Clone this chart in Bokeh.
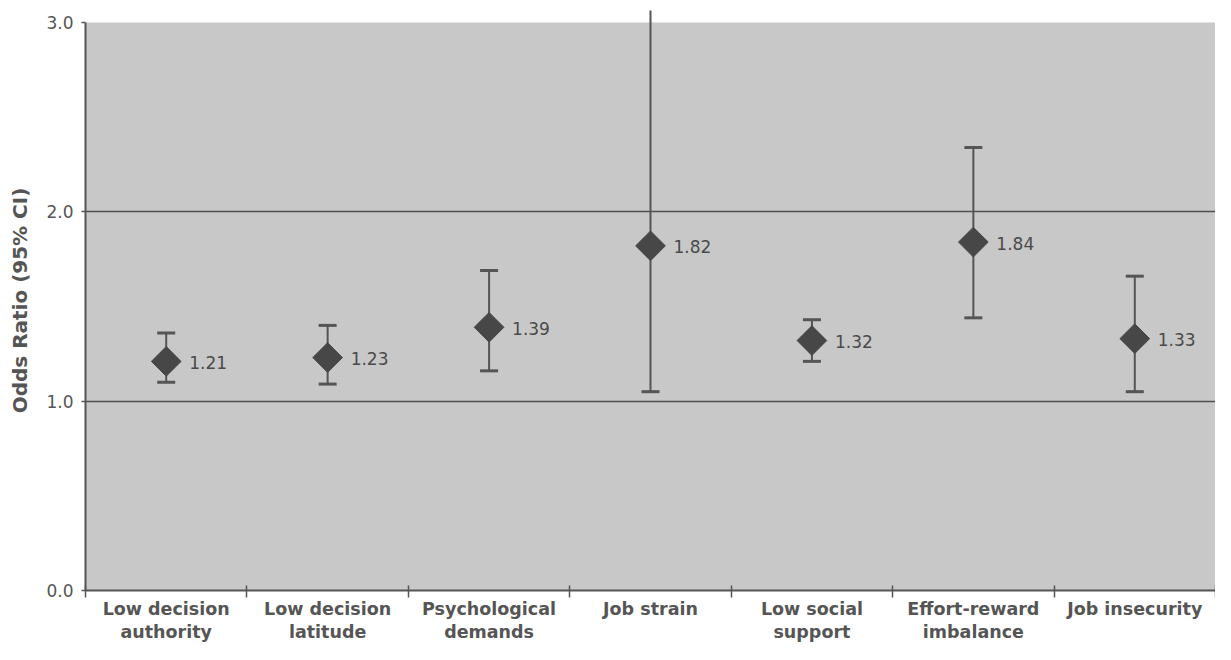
import math
from bokeh.plotting import figure
from bokeh.models import Range1d, FixedTicker, BoxAnnotation
from bokeh.core.properties import value
from bokeh.embed import file_html
from bokeh.resources import INLINE

# ---- data ----
categories = ["Low decision\nauthority", "Low decision\nlatitude", "Psychological\ndemands",
              "Job strain", "Low social\nsupport", "Effort-reward\nimbalance", "Job insecurity"]
odds_ratio = [1.21, 1.23, 1.39, 1.82, 1.32, 1.84, 1.33]
ci_lower = [1.10, 1.09, 1.16, 1.05, 1.21, 1.44, 1.05]
ci_upper = [1.36, 1.40, 1.69, 3.30, 1.43, 2.34, 1.66]
y_ticks = [0, 1, 2, 3]
y_tick_labels = ["0.0", "1.0", "2.0", "3.0"]
value_labels = [f"{v:.2f}" for v in odds_ratio]

FONT = "DejaVu Sans"
AX = "#555555"

n = len(categories)
xs = [i + 0.5 for i in range(n)]

p = figure(width=1215, height=644, output_backend="svg", toolbar_location=None,
           x_range=Range1d(0, n), y_range=Range1d(0, 3.063),
           min_border_left=85, min_border_right=0, min_border_top=10, min_border_bottom=52)
p.background_fill_color = "white"
p.border_fill_color = "white"
p.outline_line_color = None

# gray plotting area from 0 to 3
p.add_layout(BoxAnnotation(bottom=0, top=3, left=0, right=n, fill_color="#c8c8c8",
                           fill_alpha=1.0, line_color=None, level="image"))

# grid
p.xgrid.visible = False
p.ygrid.ticker = FixedTicker(ticks=[1, 2])
p.ygrid.grid_line_color = "#4f4f4f"
p.ygrid.grid_line_width = 1.6

# error bars
p.segment(x0=xs, y0=ci_lower, x1=xs, y1=ci_upper, line_color=AX, line_width=2)
p.scatter(x=xs + xs, y=ci_lower + ci_upper, marker="dash", size=18,
          line_color=AX, line_width=3)

# diamonds
p.scatter(x=xs, y=odds_ratio, marker="square", angle=math.pi / 4, size=21,
          fill_color="#474747", line_color="#474747")

# value labels
p.text(x=xs, y=odds_ratio, text=value_labels, x_offset=23, y_offset=1,
       text_baseline="middle", text_align="left", text_font=value(FONT),
       text_font_size="17px", text_color="#4a4a4a")

# y axis
ya = p.yaxis[0]
ya.ticker = FixedTicker(ticks=y_ticks)
ya.major_label_overrides = {t: s for t, s in zip(y_ticks, y_tick_labels)}
ya.bounds = (0, 3)
ya.axis_label = "Odds Ratio (95% CI)"
ya.axis_label_text_font = FONT
ya.axis_label_text_font_style = "bold"
ya.axis_label_text_font_size = "20px"
ya.axis_label_text_color = AX
ya.axis_label_standoff = 11
ya.major_label_text_font = FONT
ya.major_label_text_font_size = "17px"
ya.major_label_text_color = AX
ya.major_label_standoff = 8
ya.axis_line_color = AX
ya.axis_line_width = 2
ya.major_tick_line_color = AX
ya.major_tick_line_width = 1.5
ya.major_tick_in = 0
ya.major_tick_out = 4
ya.minor_tick_line_color = None

# x axis
xa = p.xaxis[0]
xa.ticker = FixedTicker(ticks=xs, minor_ticks=list(range(n + 1)))
xa.major_label_overrides = {x: c for x, c in zip(xs, categories)}
xa.major_label_text_font = FONT
xa.major_label_text_font_style = "bold"
xa.major_label_text_font_size = "17.5px"
xa.major_label_text_color = AX
xa.major_label_text_line_height = 1.15
xa.major_label_standoff = 1
xa.axis_line_color = AX
xa.axis_line_width = 2
xa.major_tick_line_color = None
xa.major_tick_in = 0
xa.major_tick_out = 0
xa.minor_tick_line_color = AX
xa.minor_tick_line_width = 1.5
xa.minor_tick_in = 5
xa.minor_tick_out = 7

open("out.html", "w").write(file_html(p, INLINE))
